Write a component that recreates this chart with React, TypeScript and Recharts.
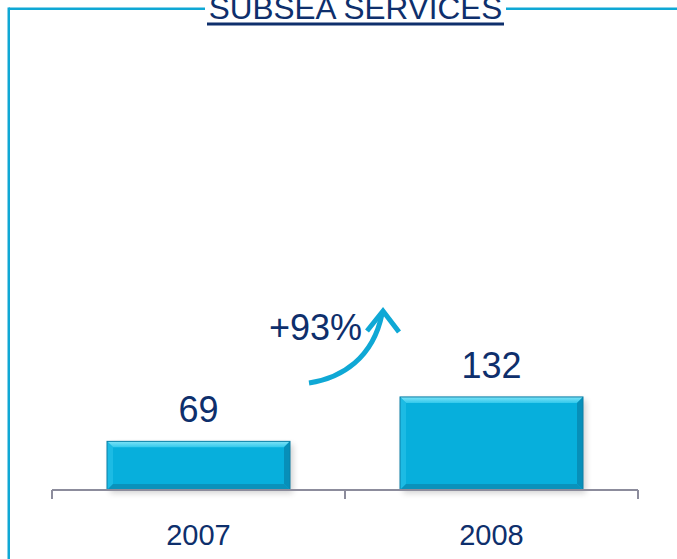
import React from 'react';
import { BarChart, Bar, XAxis, YAxis, LabelList } from 'recharts';

const categories: string[] = ['2007', '2008'];
const values: number[] = [69, 132];
const growthLabel = '+93%';
const titleText = 'SUBSEA SERVICES';

const data = categories.map((c, i) => ({ year: c, value: values[i] }));

const NAVY = '#0e2f6c';
const CYAN = '#0fa8d5';
const FONT = '"Liberation Sans", Arial, sans-serif';

const BevelBar = (props: any) => {
  const { x, y, width, height } = props;
  if (!height || height <= 0) return null;
  const b = 6;
  return (
    <g>
      <rect x={x + 3} y={y + 3} width={width} height={height} fill="#000" opacity={0.18} filter="url(#barShadow)" />
      <rect x={x} y={y} width={width} height={height} fill="#07afdc" />
      {/* top bevel */}
      <polygon points={`${x},${y} ${x + width},${y} ${x + width - b},${y + b} ${x + b},${y + b}`} fill="url(#topBevel)" />
      {/* left bevel */}
      <polygon points={`${x},${y} ${x + b},${y + b} ${x + b},${y + height - b} ${x},${y + height}`} fill="#1cbbe4" />
      {/* right bevel */}
      <polygon points={`${x + width},${y} ${x + width},${y + height} ${x + width - b},${y + height - b} ${x + width - b},${y + b}`} fill="#078fb9" />
      {/* bottom bevel */}
      <polygon points={`${x},${y + height} ${x + width},${y + height} ${x + width - b},${y + height - b} ${x + b},${y + height - b}`} fill="#0a92bb" />
      <rect x={x} y={y} width={width} height={height} fill="none" stroke="#0a7fa6" strokeWidth={1} />
    </g>
  );
};

const YearTick = (props: any) => {
  const { x, y, payload } = props;
  const off = payload && typeof payload.offset === 'number' && payload.offset > 0 ? payload.offset : 146.5;
  return (
    <g>
      <line x1={x - off} y1={y} x2={x - off} y2={y + 9} stroke="#8c8c9c" strokeWidth={2} />
      <line x1={x + off} y1={y} x2={x + off} y2={y + 9} stroke="#8c8c9c" strokeWidth={2} />
      <text x={x} y={y + 55} textAnchor="middle" fill={NAVY} fontSize={29} fontFamily={FONT}>
        {payload.value}
      </text>
    </g>
  );
};

export default function App() {
  return (
    <div style={{ position: 'absolute', left: 0, top: 0, width: 677, height: 559, background: '#fff', overflow: 'hidden' }}>
      <BarChart
        width={677}
        height={559}
        data={data}
        margin={{ top: 67, right: 39, bottom: 39, left: 52 }}
      >
        <defs>
          <linearGradient id="topBevel" x1="0" y1="0" x2="0" y2="1">
            <stop offset="0%" stopColor="#7fe3f7" />
            <stop offset="100%" stopColor="#33c9ec" />
          </linearGradient>
          <filter id="barShadow" x="-10%" y="-10%" width="120%" height="130%">
            <feGaussianBlur stdDeviation="3" />
          </filter>
        </defs>
        <XAxis
          dataKey="year"
          height={30}
          tickLine={false}
          tickSize={0}
          tickMargin={0}
          axisLine={{ stroke: '#8c8c9c', strokeWidth: 2 }}
          tick={<YearTick />}
          interval={0}
        />
        <YAxis hide domain={[0, 600]} />
        <Bar dataKey="value" barSize={183} shape={<BevelBar />} isAnimationActive={false}>
          <LabelList dataKey="value" position="top" offset={19} fill={NAVY} fontSize={36} fontFamily={FONT} />
        </Bar>
      </BarChart>
      <svg width={677} height={559} style={{ position: 'absolute', left: 0, top: 0, pointerEvents: 'none' }}>
        {/* frame */}
        <line x1={8.75} y1={8.75} x2={205} y2={8.75} stroke={CYAN} strokeWidth={2.5} />
        <line x1={506} y1={8.75} x2={677} y2={8.75} stroke={CYAN} strokeWidth={2.5} />
        <line x1={8.75} y1={7.5} x2={8.75} y2={559} stroke={CYAN} strokeWidth={2.5} />
        {/* title */}
        <text x={355.5} y={18.5} textAnchor="middle" fill={NAVY} fontSize={31.5} fontFamily={FONT}>
          {titleText}
        </text>
        <rect x={207} y={22.5} width={297} height={3} fill={NAVY} />
        {/* growth annotation */}
        <text x={315.5} y={340} textAnchor="middle" fill={NAVY} fontSize={36} fontFamily={FONT}>
          {growthLabel}
        </text>
        <path d="M309,383 C342,378 373,358 382,314" fill="none" stroke={CYAN} strokeWidth={5} />
        <path d="M367,331 L383,311 L399,332" fill="none" stroke={CYAN} strokeWidth={5} strokeLinejoin="miter" />
      </svg>
    </div>
  );
}
